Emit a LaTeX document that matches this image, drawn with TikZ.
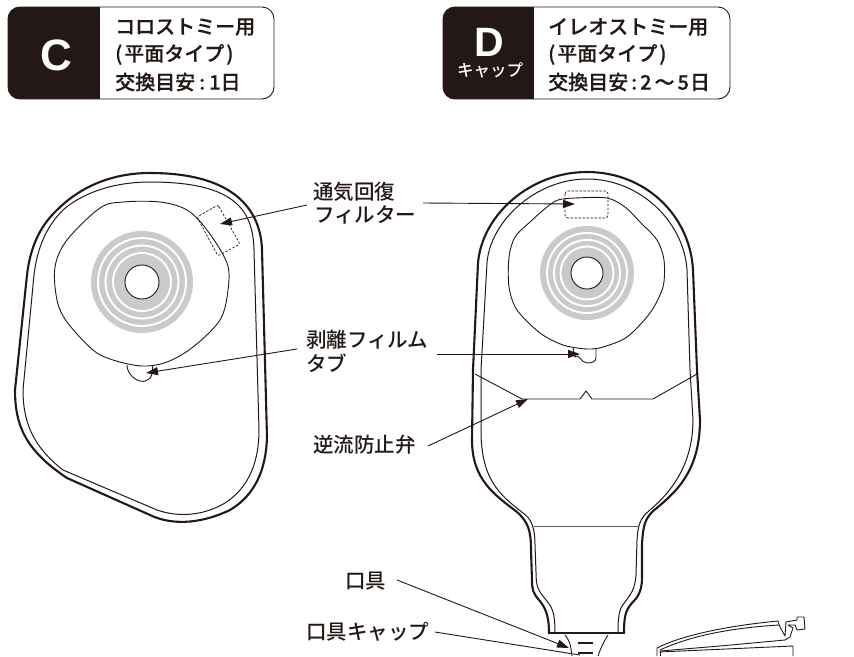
\documentclass[tikz,border=0pt]{standalone}
\usepackage{fontspec}
\usetikzlibrary{arrows.meta}
\setmainfont{Liberation Sans}
\newfontfamily\cjk{Noto Sans CJK JP Medium}
\newfontfamily\cjkh[FakeBold=0.4]{Noto Sans CJK JP Medium}
\definecolor{ink}{HTML}{231815}
\definecolor{ringgray}{HTML}{C9CACA}
\tikzset{
  outerline/.style={draw=ink,line width=2.1pt,line join=round},
  innerline/.style={draw=ink,line width=1pt,line join=round},
  thinline/.style={draw=ink,line width=0.9pt,line join=round},
  filterbox/.style={draw=ink,line width=0.7pt,dash pattern=on 2.4pt off 1.6pt},
  leader/.style={draw=ink,line width=0.9pt,-{Stealth[length=12pt,width=8pt,inset=0pt]}},
  plainleader/.style={draw=ink,line width=0.9pt},
  lbl/.style={anchor=west,inner sep=0pt,text=ink,font=\cjk\fontsize{20.5}{22}\selectfont},
  hdr/.style={anchor=west,inner sep=0pt,text=ink,font=\cjkh\fontsize{20}{22}\selectfont},
  badge/.style={fill=ink,draw=none},
  badgebox/.style={draw=ink,line width=0.9pt,rounded corners=12pt,fill=white},
  badgeletter/.style={inner sep=0pt,text=white,font=\bfseries\fontsize{44}{44}\selectfont},
}
\newcommand{\rings}[6]{%
  \fill[ringgray] (#1,#2) circle[radius=#3];
  \draw[white,line width=1.9pt] (#1,#2) circle[radius=#4];
  \draw[white,line width=1.9pt] (#1,#2) circle[radius=#5];
  \draw[white,line width=1.9pt] (#1,#2) circle[radius=#6];
}
\begin{document}
\begin{tikzpicture}[x=1pt,y=-1pt]
\path[use as bounding box,fill=white] (0,0) rectangle (854,656);
\clip (0,0) rectangle (854,656);
% badge C
\draw[badgebox] (8,7) rectangle (274,99);
\begin{scope}
\clip[rounded corners=12pt] (8,7) rectangle (274,99);
\fill[badge] (8,7) rectangle (100,99);
\end{scope}
\node[badgeletter] (cletter) at (56,55) {C};
\node[hdr] (c1) at (115,27) {コロストミー用};
\node[hdr] (c2) at (115,54.5) {(\kern2pt 平面タイプ\kern2pt)};
\node[hdr] (c3) at (115,82) {交換目安\kern4pt:\kern4pt 1日};
% badge D
\draw[badgebox] (443,7) rectangle (730,99);
\begin{scope}
\clip[rounded corners=12pt] (443,7) rectangle (730,99);
\fill[badge] (443,7) rectangle (534,99);
\end{scope}
\node[badgeletter,font=\bfseries\fontsize{41}{41}\selectfont] (dletter) at (489,42) {D};
\node[inner sep=0pt,text=white,font=\cjk\fontsize{16.5}{18}\selectfont] (dcap) at (490,70) {キャップ};
\node[hdr] (d1) at (548,27) {イレオストミー用};
\node[hdr] (d2) at (548,54.5) {(\kern2pt 平面タイプ\kern2pt)};
\node[hdr] (d3) at (548,82) {交換目安\kern3pt:\kern3pt 2\kern3pt 〜\kern3pt 5\kern1pt 日};
% left pouch
\draw[outerline] (150,173) .. controls (105,173) and (75,192) .. (57,210) .. controls (38,228) and (30,250) .. (27,275) -- (15,390) .. controls (15,425) and (25,450) .. (67,478) -- (150,515) .. controls (175,527) and (205,522) .. (230,510) .. controls (255,495) and (266,470) .. (267,437) -- (262,250) .. controls (261,215) and (240,173) .. (150,173) -- cycle;
\draw[innerline] (150,182) .. controls (110,182) and (80,195) .. (63,210) .. controls (45,228) and (37,250) .. (34,275) -- (23,390) .. controls (23,425) and (35,448) .. (63,470) -- (157,510) .. controls (180,518) and (205,515) .. (225,503) .. controls (250,487) and (259,460) .. (259,430) -- (254,250) .. controls (253,210) and (235,182) .. (150,182) -- cycle;
\draw[thinline] plot[smooth cycle,tension=0.55] coordinates {(123,202)(160,202)(187,210)(207,230)(227,263)(228,290)(220,320)(193,347)(167,362)(142,366)(113,360)(93,350)(67,322)(57,300)(55,267)(67,240)(100,208)};
\rings{142}{282}{51}{44}{36.5}{29}
\draw[thinline,fill=white] (142,282) circle[radius=17];
\draw[thinline] plot[smooth,tension=0.8] coordinates {(127,365)(130,374)(140,381)(149,379)(152,373)};
\draw[thinline] (152,373) -- (152,365);
\draw[filterbox,rounded corners=2pt] (218,205) -- (240,244) -- (218,256) -- (197,217) -- cycle;
% right pouch
\draw[outerline] (549,633) .. controls (549,615) and (545,607) .. (539,600) .. controls (533,593) and (532,590) .. (532,580) -- (531,550) .. controls (531,530) and (528,522) .. (517,512) .. controls (495,495) and (472,480) .. (472,440) -- (473,370) -- (478,263) .. controls (482,215) and (530,172) .. (587,172) .. controls (645,172) and (690,215) .. (693,270) -- (697,370) -- (700,420) .. controls (700,475) and (672,495) .. (652,512) .. controls (645,520) and (643,525) .. (642,545) -- (642,578) .. controls (642,592) and (637,598) .. (632,603) .. controls (626,610) and (624,615) .. (624,633);
\draw[draw=ink,line width=2.1pt] (548,633) -- (625,633);
\draw[innerline] (555,633) .. controls (555,612) and (552,607) .. (546,600) .. controls (538,590) and (536,587) .. (536,572) -- (535,545) .. controls (535,525) and (530,518) .. (523,513) .. controls (500,495) and (481,480) .. (481,430) -- (481,370) -- (487,263) .. controls (490,222) and (535,179) .. (587,179) .. controls (640,179) and (684,222) .. (687,270) -- (690,370) -- (693,420) .. controls (693,470) and (665,497) .. (650,510) .. controls (640,518) and (638,525) .. (637,540) -- (636,575) .. controls (635,590) and (630,595) .. (625,602) .. controls (620,608) and (618,612) .. (618,633);
\draw[draw=ink!70,line width=0.9pt] (534,526) -- (639,526);
\draw[thinline] plot[smooth cycle,tension=0.5] coordinates {(575,198)(607,198)(625,207)(640,222)(657,240)(664,260)(663,287)(650,313)(627,337)(603,347)(587,349)(563,345)(540,333)(517,310)(509,287)(509,257)(515,237)(530,222)(547,207)(558,200)};
\rings{587}{273}{47}{40}{33}{26.5}
\draw[thinline,fill=white] (587,273) circle[radius=16];
\draw[thinline] (573,348) -- (575,357) to[out=60,in=180] (587,363) to[out=0,in=-90] (596,358) -- (596,348);
\draw[filterbox,rounded corners=3pt] (565,191) rectangle (608,218);
\draw[thinline] (475,374) -- (522,399) -- (580,399) -- (586,391) -- (592,399) -- (653,399) -- (697,374);
% spout cap
\draw[thinline] (565,635) .. controls (570,642) .. (572,656);
\draw[thinline] (608,635) .. controls (602,645) .. (598,656);
\draw[draw=ink,line width=1.8pt] (578,643) -- (593,643);
\draw[draw=ink,line width=1.8pt] (578,653) -- (593,653);
% loose cap
\draw[thinline] (657,656) -- (657,648) .. controls (680,636) and (725,626) .. (778,621) -- (780,627) -- (785,636) -- (786,622) -- (797,620) -- (797,617) -- (804,617) -- (805,629) -- (797,630) -- (795,625) -- (788,625) -- (793,628) -- (790,637) -- (785,640) -- (720,646) -- (660,651);
\draw[thinline] (660,650) .. controls (690,636) and (730,628) .. (779,625);
\draw[thinline] (659,652) -- (793,646) -- (793,656);
\draw[thinline] (660,652) -- (660,656);
% labels
\node[lbl] (filter1) at (313,192) {通気回復};
\node[lbl] (filter2) at (314,215) {フィルター};
\node[lbl] (tab1) at (306,340) {剥離フィルム};
\node[lbl] (tab2) at (306,363) {タブ};
\node[lbl] (valve) at (313,445) {逆流防止弁};
\node[lbl] (mouth) at (345,581) {口具};
\node[lbl] (mouthcap) at (306,632) {口具キャップ};
% leaders
\coordinate (fa) at (307,205); \coordinate (fat) at (220,224);
\coordinate (fb) at (423,203); \coordinate (fbt) at (575,204);
\coordinate (ta) at (297,349); \coordinate (tat) at (146,373);
\coordinate (tb) at (437,354); \coordinate (tbt) at (580,354);
\coordinate (va) at (428,446); \coordinate (vat) at (528,399);
\coordinate (ma) at (397,580); \coordinate (mat) at (569,648);
\coordinate (ca) at (435,632); \coordinate (cat) at (580,655);
\draw[leader] (fa) -- (fat);
\draw[leader] (fb) -- (fbt);
\draw[leader] (ta) -- (tat);
\draw[leader] (tb) -- (tbt);
\draw[leader] (va) -- (vat);
\draw[leader] (ma) -- (mat);
\draw[plainleader] (ca) -- (cat);
\end{tikzpicture}
\end{document}
